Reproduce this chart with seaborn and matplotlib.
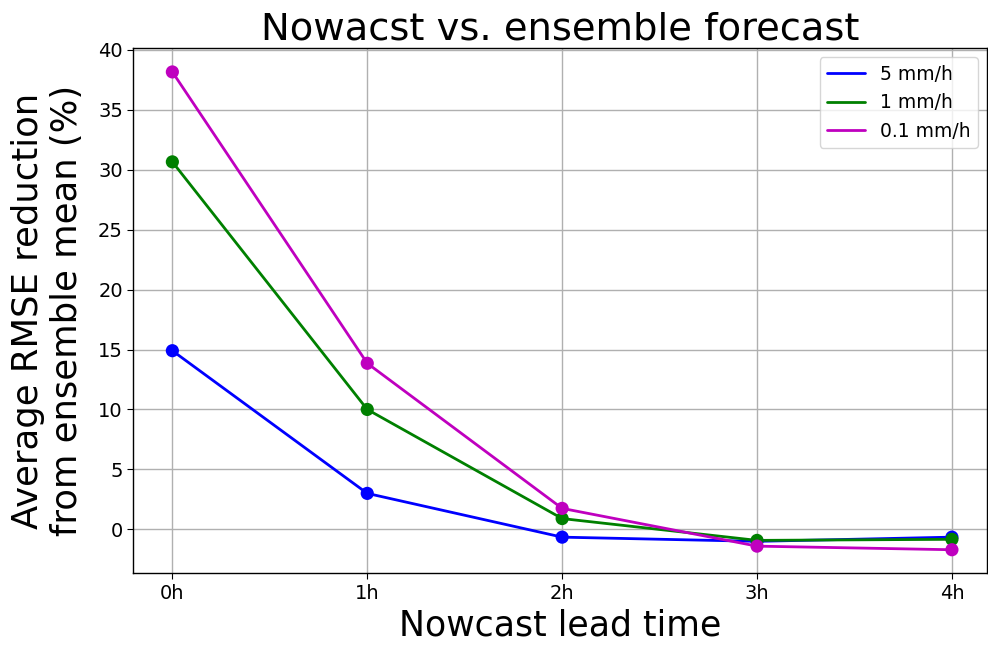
import matplotlib
matplotlib.use("Agg")
import matplotlib.pyplot as plt
import seaborn as sns
import pandas as pd

lead_times = ["0h", "1h", "2h", "3h", "4h"]
series_names = ["5 mm/h", "1 mm/h", "0.1 mm/h"]
vals_5 = [14.9, 3.0, -0.65, -1.0, -0.65]
vals_1 = [30.65, 10.0, 0.9, -0.92, -0.83]
vals_01 = [38.15, 13.85, 1.75, -1.4, -1.7]
colors = ["#0000ff", "#008000", "#bf00bf"]

rows = []
for name, vals in zip(series_names, [vals_5, vals_1, vals_01]):
    for i, v in enumerate(vals):
        rows.append({"x": i, "y": v, "series": name})
df = pd.DataFrame(rows)

sns.set_style("white")
plt.rcParams['font.family'] = ['DejaVu Sans']
plt.rcParams.update({"text.color": "black", "axes.labelcolor": "black",
                     "xtick.color": "black", "ytick.color": "black"})
fig, ax = plt.subplots(figsize=(9.88, 6.48), dpi=100)
palette = dict(zip(series_names, colors))
sns.lineplot(data=df, x="x", y="y", hue="series", palette=palette, ax=ax,
             linewidth=2, hue_order=series_names)
sns.scatterplot(data=df, x="x", y="y", hue="series", palette=palette, ax=ax,
                s=90, edgecolor=None, linewidth=0, legend=False, hue_order=series_names, zorder=3)
ax.set_xticks(range(len(lead_times)))
ax.set_xticklabels(lead_times)
ax.tick_params(labelsize=14, direction="out", length=4, left=True, bottom=True)
ax.grid(True, color="#b0b0b0", linewidth=1)
for s in ax.spines.values():
    s.set_color("black")
    s.set_linewidth(1)
ax.set_title("Nowacst vs. ensemble forecast", fontsize=27.7)
ax.set_xlabel("Nowcast lead time", fontsize=25)
ax.set_ylabel("Average RMSE reduction\nfrom ensemble mean (%)", fontsize=25.5, labelpad=10)
ax.set_xlim(-0.2, 4.18)
ax.set_ylim(-3.68, 40.15)
leg = ax.legend(loc="upper right", fontsize=13.5, title=None)
fig.subplots_adjust(left=0.135, right=0.999, top=0.926, bottom=0.115)
fig.savefig("out.png", dpi=100)
